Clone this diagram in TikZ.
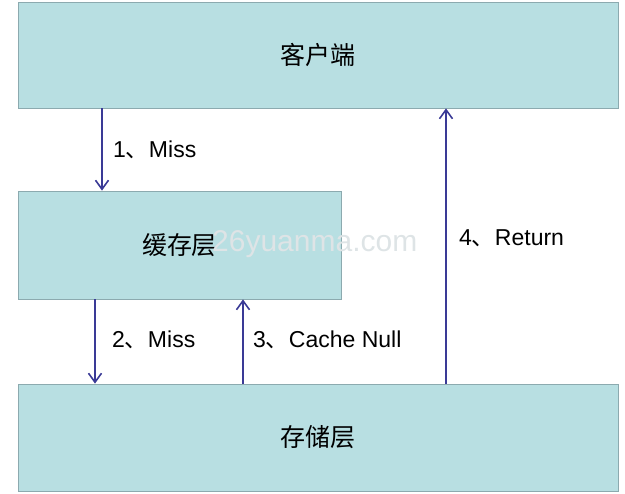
\documentclass[tikz,border=0pt]{standalone}
\usepackage{fontspec}
\setmainfont{Liberation Sans}
\newfontfamily\cjk{Noto Sans CJK SC}
\usetikzlibrary{arrows.meta}
\definecolor{boxfill}{RGB}{184,223,226}
\definecolor{boxline}{RGB}{140,170,175}
\definecolor{arrowc}{RGB}{58,58,150}
\definecolor{wmark}{RGB}{222,228,230}
\tikzset{
  layerbox/.style={draw=boxline, line width=0.8pt, fill=boxfill, font=\cjk\fontsize{25}{25}\selectfont, inner sep=0pt},
  flow/.style={draw=arrowc, line width=1.7pt, -{Straight Barb[length=9pt,width=13pt,line width=1.6pt]}},
  lbl/.style={anchor=west, font=\fontsize{23}{23}\selectfont, inner sep=0pt},
}
\newcommand{\dun}{{\cjk 、}}
\begin{document}
\begin{tikzpicture}[x=1pt,y=-1pt]
\useasboundingbox (0,0) rectangle (625,494);
\node[layerbox, minimum width=600pt, minimum height=106pt] (client) at (318,55) {客户端};
\node[layerbox, minimum width=323pt, minimum height=108pt] (cache) at (179.5,245) {缓存层};
\node[layerbox, minimum width=600pt, minimum height=107pt] (store) at (318,437.5) {存储层};
\node[font=\fontsize{30}{30}\selectfont, text=wmark, inner sep=0pt, anchor=west] (wm) at (212,244) {26yuanma.com};
\coordinate (x1) at (102,0);
\coordinate (x2) at (95,0);
\coordinate (x3) at (243,0);
\coordinate (x4) at (446,0);
\draw[flow] (client.south -| x1) -- (cache.north -| x1);
\draw[flow] (cache.south -| x2) -- (store.north -| x2);
\draw[flow] (store.north -| x3) -- (cache.south -| x3);
\draw[flow] (store.north -| x4) -- (client.south -| x4);
\node[lbl] (l1) at (113,150) {1\dun Miss};
\node[lbl] (l2) at (112,340) {2\dun Miss};
\node[lbl] (l3) at (253,340) {3\dun Cache Null};
\node[lbl] (l4) at (459,238) {4\dun Return};
\end{tikzpicture}
\end{document}
